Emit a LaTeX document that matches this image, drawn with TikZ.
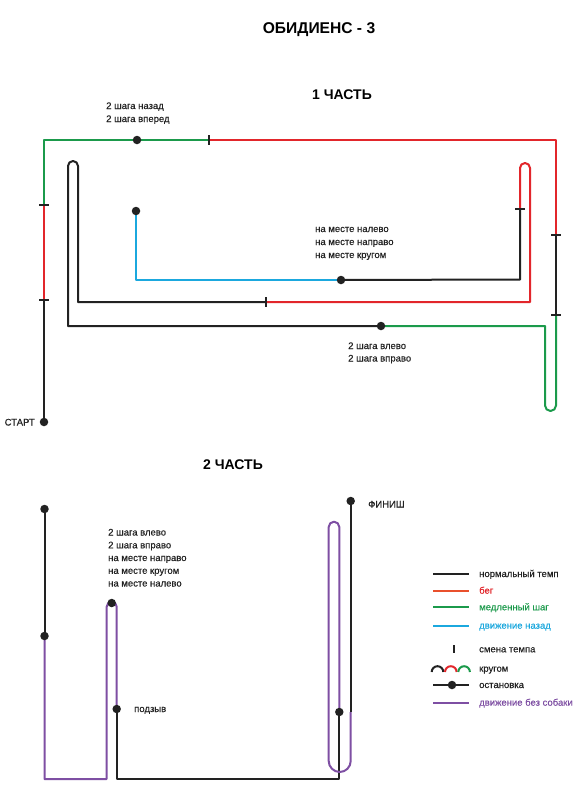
\documentclass[tikz,border=0pt]{standalone}
\usepackage{fontspec}
\setmainfont{Liberation Sans}
\newfontfamily\medfont{Liberation Sans}[FakeBold=0.35]
\definecolor{lk}{HTML}{222222}
\definecolor{lr}{HTML}{E2262B}
\definecolor{lo}{HTML}{E9502C}
\definecolor{lg}{HTML}{1B9A4B}
\definecolor{lb}{HTML}{1BA8DE}
\definecolor{lp}{HTML}{7E4FA3}
\definecolor{tx}{HTML}{222222}
\begin{document}
\begin{tikzpicture}[x=1pt,y=-1pt,
  ln/.style={line width=2pt,line join=round},
  blk/.style={ln,draw=lk},
  rd/.style={ln,draw=lr},
  gr/.style={ln,draw=lg},
  bl/.style={ln,draw=lb},
  pu/.style={ln,draw=lp},
  tk/.style={line width=2pt,draw=lk},
  dot/.style={circle,fill=lk,inner sep=0pt,minimum size=8.5pt},
  lab/.style={anchor=base west,inner sep=0pt,text=tx,font=\medfont\fontsize{9.5}{11}\selectfont},
  ttl/.style={inner sep=0pt,text=black,font=\bfseries\fontsize{14}{16}\selectfont}]
\useasboundingbox (0,0) rectangle (587,800);
\fill[white] (0,0) rectangle (587,800);

% titles
\node[ttl,font=\bfseries\fontsize{15.6}{18}\selectfont] (title) at (319,30) {ОБИДИЕНС - 3};
\node[ttl] (part1) at (342,95) {1 ЧАСТЬ};
\node[ttl] (part2) at (233,465) {2 ЧАСТЬ};

% ---------- part 1 ----------
\coordinate (pS) at (44,422);
\coordinate (pD1) at (137,140);
\coordinate (pD2) at (136,211);
\coordinate (pD3) at (341,280);
\coordinate (pD4) at (381,326);
\coordinate (t1) at (44,300);
\coordinate (t2) at (44,205);
\coordinate (t3) at (209,140);
\coordinate (t4) at (556,235);
\coordinate (t5) at (556,315);
\coordinate (t6) at (266,302);
\coordinate (t7) at (520,209);

\draw[blk] (pS) -- (t1);
\draw[rd] (t1) -- (t2);
\draw[gr] (t2) -- (44,140) -- (pD1) -- (t3);
\draw[rd] (t3) -- (556,140) -- (t4);
\draw[blk] (t4) -- (t5);
\draw[gr] (t5) -- (556,405.5) arc(0:180:5.5) -- (545,326) -- (pD4);
\draw[blk] (pD4) -- (68,326) -- (68,166) arc(180:360:5) -- (78,302) -- (t6);
\draw[rd] (t6) -- (530,302) -- (530,168) arc(360:180:5) -- (t7);
\draw[blk] (t7) -- (520,279.5) -- (pD3);
\draw[bl] (pD3) -- (136,280) -- (pD2);

\draw[tk] (t1) +(-5,0) -- +(5,0);
\draw[tk] (t2) +(-5,0) -- +(5,0);
\draw[tk] (t3) +(0,-5) -- +(0,5);
\draw[tk] (t4) +(-5,0) -- +(5,0);
\draw[tk] (t5) +(-5,0) -- +(5,0);
\draw[tk] (t6) +(0,-5) -- +(0,5);
\draw[tk] (t7) +(-5,0) -- +(5,0);

\node[dot] (start) at (pS) {};
\node[dot] (d1) at (pD1) {};
\node[dot] (d2) at (pD2) {};
\node[dot] (d3) at (pD3) {};
\node[dot] (d4) at (pD4) {};

\node[lab,anchor=base east] (startlab) at (35,425.5) {СТАРТ};
\node[lab] (a1) at (106,109) {2 шага назад};
\node[lab] (a2) at (106,122) {2 шага вперед};
\node[lab] (b1) at (315,232) {на месте налево};
\node[lab] (b2) at (315,245) {на месте направо};
\node[lab] (b3) at (315,258) {на месте кругом};
\node[lab] (c1) at (348,349) {2 шага влево};
\node[lab] (c2) at (348,361.5) {2 шага вправо};

% ---------- part 2 ----------
\coordinate (qA) at (44.5,509);
\coordinate (qB) at (44.5,636);
\coordinate (qC) at (111.7,603);
\coordinate (qD) at (116.7,709);
\coordinate (qE) at (339.3,712);
\coordinate (qF) at (350.7,501);
\coordinate (qG) at (350.7,712);

\draw[blk] (qA) -- (qB);
\draw[pu] (qB) -- (44.5,779) -- (106.7,779) -- (106.7,606.7) arc(180:360:5) -- (qD);
\draw[blk] (qD) -- (116.7,779) -- (339.3,779) -- (qE);
\draw[pu] (qE) -- (339.3,527) arc(360:180:5.3) -- (328.7,761) arc(180:0:11) -- (qG);
\draw[blk] (qG) -- (qF);

\node[dot] (e1) at (qA) {};
\node[dot] (e2) at (qB) {};
\node[dot] (e3) at (qC) {};
\node[dot] (e4) at (qD) {};
\node[dot] (e5) at (qE) {};
\node[dot] (finish) at (qF) {};

\node[lab] (f1) at (108,535.5) {2 шага влево};
\node[lab] (f2) at (108,548.3) {2 шага вправо};
\node[lab] (f3) at (108,561) {на месте направо};
\node[lab] (f4) at (108,573.8) {на месте кругом};
\node[lab] (f5) at (108,586.5) {на месте налево};
\node[lab] (podz) at (134,712) {подзыв};
\node[lab] (finlab) at (368,507.5) {ФИНИШ};

% ---------- legend ----------
\coordinate (L1a) at (433,574);   \coordinate (L1b) at (469,574);
\coordinate (L2a) at (433,590.7); \coordinate (L2b) at (469,590.7);
\coordinate (L3a) at (433,607.3); \coordinate (L3b) at (469,607.3);
\coordinate (L4a) at (433,625.7); \coordinate (L4b) at (469,625.7);
\coordinate (L5) at (454.3,649.3);
\coordinate (L7a) at (433,685);   \coordinate (L7b) at (469,685);
\coordinate (L8a) at (433,702.7); \coordinate (L8b) at (469,702.7);

\draw[blk] (L1a) -- (L1b);
\draw[ln,draw=lo] (L2a) -- (L2b);
\draw[gr] (L3a) -- (L3b);
\draw[bl] (L4a) -- (L4b);
\draw[tk] (L5) +(0,-4) -- +(0,4);
\draw[blk] (431.7,672) arc(180:360:5.8);
\draw[rd] (445,672) arc(180:360:5.8);
\draw[gr] (458.3,672) arc(180:360:5.8);
\draw[blk] (L7a) -- (L7b);
\node[dot] (Ldot) at (452,685) {};
\draw[pu] (L8a) -- (L8b);

\node[lab] (g1) at (479,577) {нормальный темп};
\node[lab,text=lr] (g2) at (479,593.7) {бег};
\node[lab,text=lg] (g3) at (479,610.3) {медленный шаг};
\node[lab,text=lb] (g4) at (479,628.7) {движение назад};
\node[lab] (g5) at (479,652.3) {смена темпа};
\node[lab] (g6) at (479,671.7) {кругом};
\node[lab] (g7) at (479,688) {остановка};
\node[lab,text=lp] (g8) at (479,705.7) {движение без собаки};
\end{tikzpicture}
\end{document}
